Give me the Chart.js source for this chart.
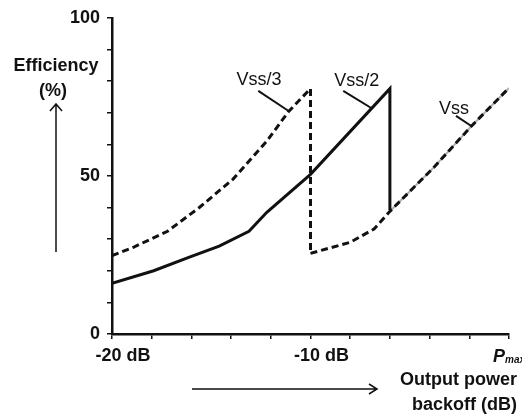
<!DOCTYPE html>
<html>
<head>
<meta charset="utf-8">
<script src="https://cdn.jsdelivr.net/npm/chart.js@4/dist/chart.umd.min.js"></script>
<style>
  body { margin: 0; background: #fff; }
  #wrap { width: 522px; height: 417px; }
</style>
</head>
<body>
<div id="wrap"><canvas id="grafica"></canvas></div>
<script>
// data (x in dB backoff, y in % efficiency)
const vss3X = [-20, -18.9, -17.2, -15.6, -13.9, -12.2, -11.1, -10, -10];
const vss3Y = [24.8, 27.5, 32.5, 40, 49, 61, 70.4, 77.6, 25.5];
const vss2X = [-20, -17.9, -16.1, -14.6, -13.1, -12.2, -10, -6, -6];
const vss2Y = [16, 20, 24.3, 27.8, 32.5, 38.5, 50.5, 77.6, 39.2];
const vssX = [-10, -8, -6.8, -6, -3.8, -1.9, 0];
const vssY = [25.5, 29, 33.2, 38.8, 52.6, 65.7, 77.8];

const xTickLabels = { '-20': '-20 dB', '-10': '-10 dB' };
const yTickLabels = { '0': '0', '50': '50', '100': '100' };

function puntos(xs, ys) {
    return xs.map(function (x, i) { return { x: x, y: ys[i] }; });
}

const FONT = '"Liberation Sans", Arial, sans-serif';
Chart.defaults.font.family = FONT;
Chart.defaults.color = '#111';

// texts, arrows and curve labels
const extras = {
    id: 'extras',
    afterDraw(chart) {
        const c = chart.ctx;
        const xs = chart.scales.x, ys = chart.scales.y;
        const px = v => xs.getPixelForValue(v), py = v => ys.getPixelForValue(v);
        c.save();
        c.fillStyle = '#111';
        c.strokeStyle = '#111';
        c.textBaseline = 'middle';

        // axis titles
        c.font = 'bold 18px ' + FONT;
        c.textAlign = 'center';
        c.fillText('Efficiency', 56, 66);
        c.fillText('(%)', 53, 91);
        c.textAlign = 'right';
        c.fillText('Output power', 517, 380);
        c.fillText('backoff (dB)', 517, 405);

        // P_max tick label
        const p0 = px(0) - 16;
        c.textAlign = 'left';
        c.textBaseline = 'alphabetic';
        c.font = 'italic bold 18px ' + FONT;
        c.fillText('P', p0, 362);
        c.font = 'italic bold 10px ' + FONT;
        c.fillText('max', p0 + 12, 363);

        // arrows
        c.lineWidth = 1.5;
        c.beginPath();
        c.moveTo(56, 252); c.lineTo(56, 104);
        c.moveTo(50, 111); c.lineTo(56, 104); c.lineTo(62, 111);
        c.moveTo(192, 389); c.lineTo(377, 389);
        c.moveTo(369, 384); c.lineTo(377, 389); c.lineTo(369, 394);
        c.stroke();

        // curve labels with leader lines
        c.font = '18px ' + FONT;
        c.textAlign = 'center';
        c.textBaseline = 'middle';
        c.lineWidth = 2;
        const notas = [
            ['Vss/3', -12.6, 80.3, -12.63, 76.9, -11.12, 70.6],
            ['Vss/2', -7.67, 80.1, -8.35, 76.9, -6.92, 71.4],
            ['Vss', -2.77, 71.3, -2.67, 69.0, -1.88, 65.7]
        ];
        notas.forEach(function (n) {
            c.fillText(n[0], px(n[1]), py(n[2]));
            c.beginPath();
            c.moveTo(px(n[3]), py(n[4]));
            c.lineTo(px(n[5]), py(n[6]));
            c.stroke();
        });
        c.restore();
    }
};

document.addEventListener('DOMContentLoaded', function () {
    const ctx = document.getElementById('grafica').getContext('2d');
    new Chart(ctx, {
        type: 'scatter',
        data: {
            datasets: [{
                label: 'Vss/3',
                data: puntos(vss3X, vss3Y),
                borderColor: '#111',
                borderWidth: 3,
                borderDash: [7, 4]
            }, {
                label: 'Vss/2',
                data: puntos(vss2X, vss2Y),
                borderColor: '#111',
                borderWidth: 3
            }, {
                label: 'Vss',
                data: puntos(vssX, vssY),
                borderColor: '#111',
                borderWidth: 3,
                borderDash: [7, 4]
            }, {
                label: 'Vss gris',
                data: puntos(vssX.slice(3), vssY.slice(3)),
                borderColor: '#b0b0b0',
                borderWidth: 2,
                order: 10
            }]
        },
        options: {
            responsive: true,
            maintainAspectRatio: false,
            animation: false,
            showLine: true,
            elements: { point: { radius: 0 }, line: { tension: 0, fill: false } },
            layout: { padding: { top: 16, right: 13, left: 0, bottom: 0 } },
            plugins: { legend: { display: false }, tooltip: { enabled: false } },
            scales: {
                x: {
                    type: 'linear',
                    min: -20,
                    max: 0,
                    afterFit: s => { s.height = 83; },
                    border: { display: true, color: '#111', width: 2.5 },
                    grid: { drawOnChartArea: false, drawTicks: true, tickLength: 5, color: '#111', lineWidth: 1.5 },
                    ticks: {
                        stepSize: 2,
                        autoSkip: false,
                        maxRotation: 0,
                        padding: 6,
                        labelOffset: 11,
                        font: { size: 18, weight: 'bold' },
                        callback: v => xTickLabels[String(v)] || ''
                    }
                },
                y: {
                    min: 0,
                    max: 100,
                    afterFit: s => { s.width = 112; },
                    border: { display: true, color: '#111', width: 2.5 },
                    grid: { drawOnChartArea: false, drawTicks: true, tickLength: 5, color: '#111', lineWidth: 1.5 },
                    ticks: {
                        stepSize: 10,
                        autoSkip: false,
                        padding: 7,
                        font: { size: 18, weight: 'bold' },
                        callback: v => yTickLabels[String(v)] || ''
                    }
                }
            }
        },
        plugins: [extras]
    });
});
</script>
</body>
</html>
